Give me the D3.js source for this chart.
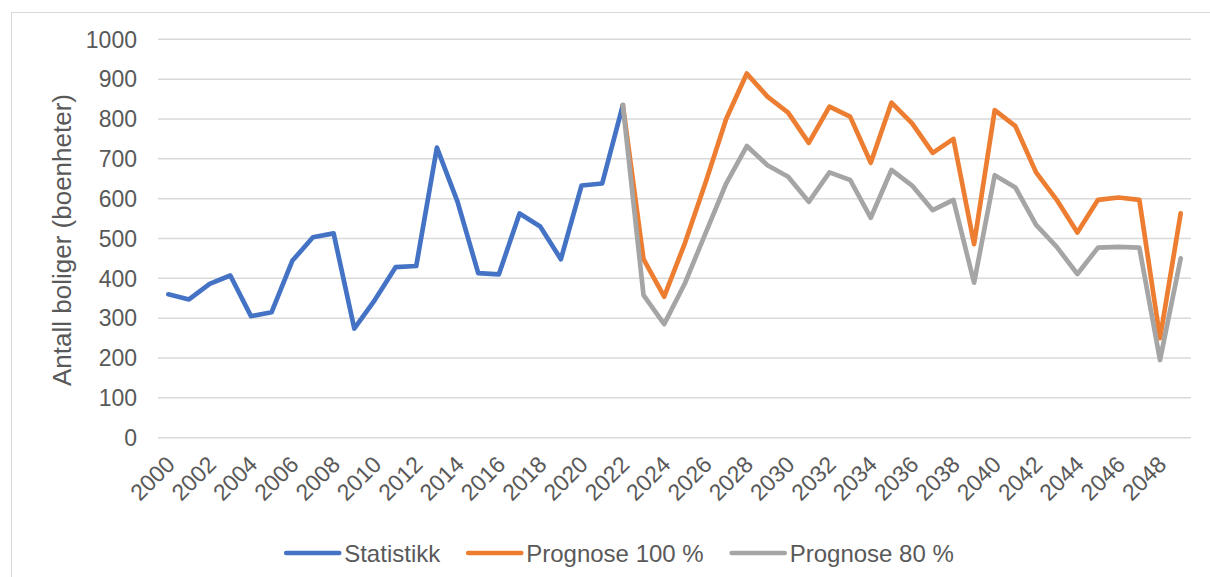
<!DOCTYPE html>
<html>
<head>
<meta charset="utf-8">
<script src="https://cdn.jsdelivr.net/npm/d3@7"></script>
<style>
  body { margin: 0; background: #fff; }
  text { font-family: "Liberation Sans", Arial, sans-serif; fill: #595959; }
</style>
</head>
<body>
<div id="chart"></div>
<script>
// categories (years)
var years = [2000,2001,2002,2003,2004,2005,2006,2007,2008,2009,
             2010,2011,2012,2013,2014,2015,2016,2017,2018,2019,
             2020,2021,2022,2023,2024,2025,2026,2027,2028,2029,
             2030,2031,2032,2033,2034,2035,2036,2037,2038,2039,
             2040,2041,2042,2043,2044,2045,2046,2047,2048,2049];

// Statistikk 2000-2022
var statistikk = [360,347,386,407,305,315,444,503,513,274,
                  346,428,431,728,592,413,410,563,530,448,
                  633,638,835];

// Prognoser 2022-2049
var prognoseYears = [2022,2023,2024,2025,2026,2027,2028,2029,2030,2031,
                     2032,2033,2034,2035,2036,2037,2038,2039,2040,2041,
                     2042,2043,2044,2045,2046,2047,2048,2049];
var prognose100 = [835,448,354,488,640,800,914,856,816,740,
                   831,806,690,841,789,715,750,486,822,782,
                   666,597,515,597,603,597,250,563];
var prognose80 = [835,358,285,387,513,638,732,684,655,592,
                  666,647,552,672,633,571,597,389,659,628,
                  534,479,411,477,479,477,195,450];

var yTicks = [0,100,200,300,400,500,600,700,800,900,1000];
var seriesNames = ["Statistikk", "Prognose 100 %", "Prognose 80 %"];
var colors = ["#4472C4", "#ED7D31", "#A5A5A5"];

var W = 1210, H = 577;
var margin = {top: 39.3, left: 158, right: 19, bottom: 139.3};

var svg = d3.select("#chart")
    .append("svg")
        .attr("width", W)
        .attr("height", H);

// chart frame
svg.append("rect")
    .attr("x", 11.5).attr("y", 12.5)
    .attr("width", 1230).attr("height", 600)
    .attr("fill", "none")
    .attr("stroke", "#D9D9D9")
    .attr("stroke-width", 1);

var xScale = d3.scaleBand()
    .domain(years)
    .range([margin.left, W - margin.right]);

var yScale = d3.scaleLinear()
    .domain([0, 1000])
    .range([H - margin.bottom, margin.top]);

var cx = function(yr) { return xScale(yr) + xScale.bandwidth() / 2; };

// gridlines
svg.append("g")
    .selectAll("line")
    .data(yTicks)
    .enter()
    .append("line")
        .attr("x1", margin.left)
        .attr("x2", W - margin.right)
        .attr("y1", d => yScale(d))
        .attr("y2", d => yScale(d))
        .attr("stroke", "#D9D9D9")
        .attr("stroke-width", 1.5);

// y tick labels
svg.append("g")
    .selectAll("text")
    .data(yTicks)
    .enter()
    .append("text")
        .attr("x", 137)
        .attr("y", d => yScale(d))
        .attr("dy", "0.36em")
        .attr("text-anchor", "end")
        .style("font-size", "23px")
        .text(d => d);

// x tick labels, every second year
svg.append("g")
    .selectAll("text")
    .data(years.filter((d, i) => i % 2 === 0))
    .enter()
    .append("text")
        .attr("transform", d => "translate(" + (cx(d) + 2) + "," + 460 + ") rotate(-45)")
        .attr("text-anchor", "end")
        .attr("dy", "0.36em")
        .style("font-size", "23px")
        .text(d => d);

// y axis title
svg.append("text")
    .attr("transform", "rotate(-90)")
    .attr("x", -240)
    .attr("y", 62)
    .attr("dy", "0.36em")
    .attr("text-anchor", "middle")
    .style("font-size", "26px")
    .text("Antall boliger (boenheter)");

var line = d3.line()
    .x(d => cx(d[0]))
    .y(d => yScale(d[1]));

var seriesData = [
    d3.zip(years.slice(0, statistikk.length), statistikk),
    d3.zip(prognoseYears, prognose100),
    d3.zip(prognoseYears, prognose80)
];

svg.append("g")
    .selectAll("path")
    .data(seriesData)
    .enter()
    .append("path")
        .attr("d", line)
        .attr("fill", "none")
        .attr("stroke", (d, i) => colors[i])
        .attr("stroke-width", 4.7)
        .attr("stroke-linejoin", "round")
        .attr("stroke-linecap", "round");

// legend
var legend = svg.append("g");
var xPos = 0;
seriesNames.forEach(function(name, i) {
    var g = legend.append("g").attr("transform", "translate(" + xPos + ",0)");
    g.append("line")
        .attr("x1", 2).attr("x2", 55)
        .attr("y1", 0).attr("y2", 0)
        .attr("stroke", colors[i])
        .attr("stroke-width", 4.7)
        .attr("stroke-linecap", "round");
    var t = g.append("text")
        .attr("x", 60)
        .attr("y", 0)
        .attr("dy", "0.36em")
        .style("font-size", "24px")
        .text(name);
    xPos += 60 + t.node().getComputedTextLength() + 26;
});
var legendWidth = xPos - 26;
legend.attr("transform", "translate(" + (619 - legendWidth / 2) + ",553)");
</script>
</body>
</html>
